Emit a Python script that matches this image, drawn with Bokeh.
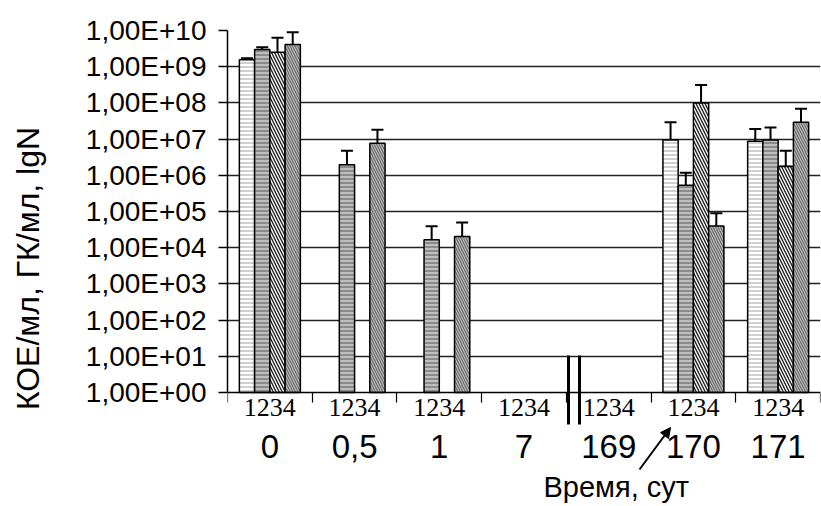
import math
from bokeh.plotting import figure
from bokeh.models import (FixedTicker, LinearAxis, Whisker, TeeHead, ColumnDataSource,
                          Label, Arrow, NormalHead, Grid, Range1d)
from bokeh.embed import file_html
from bokeh.resources import INLINE

nan = float("nan")

# ---- data ----
groups = ["0", "0,5", "1", "7", "169", "170", "171"]
group_tick_label = "1234"
y_ticks = [1e0, 1e1, 1e2, 1e3, 1e4, 1e5, 1e6, 1e7, 1e8, 1e9, 1e10]
y_tick_labels = ["1,00E+00", "1,00E+01", "1,00E+02", "1,00E+03", "1,00E+04", "1,00E+05",
                 "1,00E+06", "1,00E+07", "1,00E+08", "1,00E+09", "1,00E+10"]

s1 = [1.55e9, nan, nan, nan, nan, 9.5e6, 8.7e6]
s1_hi = [1.7e9, nan, nan, nan, nan, 2.9e7, 1.9e7]
s1_lo = [1.4e9, nan, nan, nan, nan, 2.9e6, 9.5e5]

s2 = [3.0e9, 1.95e6, 1.65e4, nan, nan, 5.3e5, 9.5e6]
s2_hi = [3.45e9, 4.8e6, 3.9e4, nan, nan, 1.17e6, 2.1e7]
s2_lo = [2.75e9, 1.0e6, 6.0e3, nan, nan, 1.0e5, 1.0e6]

s3 = [2.5e9, nan, nan, nan, nan, 1.0e8, 1.75e6]
s3_hi = [6.3e9, nan, nan, nan, nan, 3.1e8, 4.8e6]
s3_lo = [1.07e9, nan, nan, nan, nan, 9.5e6, 1.75e6]

s4 = [4.1e9, 7.7e6, 2.04e4, nan, nan, 4.0e4, 2.9e7]
s4_hi = [8.9e9, 1.8e7, 5.0e4, nan, nan, 9.0e4, 6.9e7]
s4_lo = [1.07e9, 1.0e6, 9.8e3, nan, nan, 1.0e4, 9.5e6]

series = [(s1, s1_hi, s1_lo), (s2, s2_hi, s2_lo), (s3, s3_hi, s3_lo), (s4, s4_hi, s4_lo)]
styles = [
    dict(fill_color="white", hatch_pattern="horizontal_line", hatch_color="#c4c4c4", hatch_scale=4, hatch_weight=1.6),
    dict(fill_color="#bdbdbd", hatch_pattern="horizontal_line", hatch_color="#6a6a6a", hatch_scale=4, hatch_weight=1.2),
    dict(fill_color="white", hatch_pattern="left_diagonal_line", hatch_color="#222222", hatch_scale=6, hatch_weight=1.4),
    dict(fill_color="#bdbdbd", hatch_pattern="left_diagonal_line", hatch_color="#6a6a6a", hatch_scale=5, hatch_weight=1.2),
]
offsets = [-0.27, -0.09, 0.09, 0.27]
bar_w = 0.18

n = len(groups)
centers = [i + 0.5 for i in range(n)]
bounds = [float(i) for i in range(n + 1)]

# frame spans the whole lower part so that the texts below the axis are not clipped;
# the value axis starts at 1 (bounds) and the category axes sit at y = 1
y_low = 10 ** -3.15
p = figure(width=821, height=506, x_range=Range1d(0, n), y_range=Range1d(y_low, 1e10),
           y_axis_type="log", x_axis_location=None,
           output_backend="svg", toolbar_location=None,
           min_border_left=227, min_border_right=1, min_border_top=30, min_border_bottom=0)
p.outline_line_color = None
p.background_fill_color = "white"
p.border_fill_color = "white"

# y axis
ya = p.yaxis[0]
ya.bounds = (1, 1e10)
ya.ticker = FixedTicker(ticks=y_ticks, minor_ticks=[])
ya.major_label_overrides = {t: l for t, l in zip(y_ticks, y_tick_labels)}
ya.major_label_text_font = "Liberation Sans"
ya.major_label_text_font_size = "28px"
ya.major_label_text_color = "black"
ya.major_label_standoff = 12
ya.major_tick_out = 9
ya.major_tick_in = 0
ya.major_tick_line_color = "black"
ya.major_tick_line_width = 1.5
ya.axis_line_color = "black"
ya.axis_line_width = 1.5
ya.axis_label = "КОЕ/мл, ГК/мл, lgN"
ya.axis_label_text_font = "Liberation Sans"
ya.axis_label_text_font_size = "32px"
ya.axis_label_text_font_style = "normal"
ya.axis_label_text_color = "black"
ya.axis_label_standoff = 37

# grid
p.ygrid[0].ticker = FixedTicker(ticks=y_ticks[1:-1])
p.ygrid[0].grid_line_color = "#222222"
p.ygrid[0].grid_line_width = 1.5
p.add_layout(Grid(dimension=1, ticker=FixedTicker(ticks=y_ticks[-1:]), grid_line_color="#c8c8c8",
                  grid_line_width=1.5))
for g in p.xgrid:
    g.visible = False

# x axes (fixed at y = 1)
ax1 = LinearAxis(fixed_location=1, ticker=FixedTicker(ticks=centers, minor_ticks=bounds),
                 major_label_overrides={c: group_tick_label for c in centers},
                 major_tick_out=0, major_tick_in=0, major_tick_line_color=None,
                 minor_tick_out=10, minor_tick_in=0, minor_tick_line_color="black",
                 minor_tick_line_width=1.2,
                 axis_line_color="black", axis_line_width=1.5,
                 major_label_standoff=-3,
                 major_label_text_font="Liberation Serif",
                 major_label_text_font_size="26px",
                 major_label_text_color="black")
p.add_layout(ax1, "below")
ax2 = LinearAxis(fixed_location=1, ticker=FixedTicker(ticks=centers, minor_ticks=[]),
                 major_label_overrides={c: g for c, g in zip(centers, groups)},
                 major_tick_out=0, major_tick_in=0,
                 major_tick_line_color=None, minor_tick_line_color=None, axis_line_color=None,
                 major_label_standoff=43,
                 major_label_text_font="Liberation Sans",
                 major_label_text_font_size="33px",
                 major_label_text_color="black")
p.add_layout(ax2, "below")

# bars + error bars
for k, ((vals, hi, lo), st) in enumerate(zip(series, styles)):
    xs, tops, his, los = [], [], [], []
    for i in range(n):
        if not math.isnan(vals[i]):
            xs.append(centers[i] + offsets[k])
            tops.append(vals[i])
            his.append(hi[i])
            los.append(lo[i])
    src = ColumnDataSource(dict(x=xs, top=tops, hi=his, lo=los))
    p.vbar(x="x", top="top", bottom=1, width=bar_w, source=src,
           line_color="black", line_width=1.5, **st)
    w = Whisker(base="x", upper="hi", lower="lo", source=src,
                line_color="black", line_width=2,
                upper_head=TeeHead(size=12, line_color="black", line_width=2),
                lower_head=TeeHead(size=12, line_color="black", line_width=2))
    p.add_layout(w)

# axis break marks (screen units, from the frame's lower left corner)
for bx in [341, 352]:
    p.add_layout(Arrow(end=None, x_start=bx, y_start=151, x_end=bx, y_end=82,
                       start_units="screen", end_units="screen",
                       line_color="black", line_width=3))

# arrow
p.add_layout(Arrow(end=NormalHead(size=10, fill_color="black", line_color="black"),
                   x_start=412, y_start=37, x_end=443, y_end=79,
                   start_units="screen", end_units="screen",
                   line_color="black", line_width=2))

p.add_layout(Label(x=4.59, y=36, x_units="data", y_units="screen", text="Время, сут",
                   text_font="Liberation Sans", text_font_size="29px", text_align="center",
                   text_baseline="top", text_color="black"))

open("out.html", "w").write(file_html(p, INLINE))
